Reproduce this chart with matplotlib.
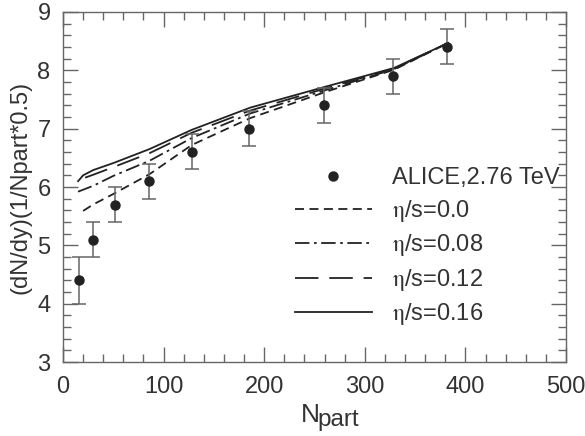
import numpy as np
import matplotlib
matplotlib.use('Agg')
import matplotlib.pyplot as plt
from matplotlib.ticker import MultipleLocator
from matplotlib.lines import Line2D

plt.rcParams['font.family'] = ['Liberation Sans', 'DejaVu Sans']
plt.rcParams['mathtext.fontset'] = 'stix'

# ALICE data
npart_data = [16, 30, 52, 85, 128, 185, 259, 328, 382]
dndy_data = [4.4, 5.1, 5.7, 6.1, 6.6, 7.0, 7.4, 7.9, 8.4]
dndy_err = [0.4, 0.3, 0.3, 0.3, 0.3, 0.3, 0.3, 0.3, 0.3]

# hydro curves
npart_00 = [20, 30, 50, 86, 128, 186, 261, 329, 383]
y_00 = [5.59, 5.70, 5.88, 6.22, 6.72, 7.18, 7.63, 8.01, 8.47]
npart_08 = [15, 30, 50, 86, 128, 186, 261, 329, 383]
y_08 = [5.92, 6.02, 6.19, 6.45, 6.84, 7.26, 7.66, 8.02, 8.47]
npart_12 = [22, 30, 50, 86, 128, 186, 261, 329, 383]
y_12 = [6.16, 6.21, 6.34, 6.58, 6.93, 7.31, 7.69, 8.03, 8.47]
npart_16 = [15, 20, 30, 50, 86, 128, 186, 261, 329, 383]
y_16 = [6.10, 6.20, 6.29, 6.41, 6.65, 6.98, 7.36, 7.72, 8.04, 8.47]

labels = ['ALICE,2.76 TeV', r'$\mathrm{\eta}$/s=0.0', r'$\mathrm{\eta}$/s=0.08',
          r'$\mathrm{\eta}$/s=0.12', r'$\mathrm{\eta}$/s=0.16']

txt = '#333333'
ax_col = '#666666'
fs = 17

fig = plt.figure(figsize=(5.85, 4.36), dpi=100)
ax = fig.add_axes([0.1077, 0.1697, 0.8598, 0.8028])

ax.errorbar(npart_data, dndy_data, yerr=dndy_err, fmt='o', color='#222222',
            ecolor='#666666', elinewidth=1.1, capsize=5, capthick=1.1,
            markersize=6.5, zorder=3)
lw = 1.3
c = '#222222'
l0, = ax.plot(npart_00, y_00, color=c, lw=lw, dashes=(5, 3))
l1, = ax.plot(npart_08, y_08, color=c, lw=lw, dashes=(8, 2.5, 1.5, 2.5))
l2, = ax.plot(npart_12, y_12, color=c, lw=lw, dashes=(13, 6))
l3, = ax.plot(npart_16, y_16, color=c, lw=lw)
dot = Line2D([], [], ls='none', marker='o', color='#222222', markersize=6.5)

ax.set_xlim(0, 500)
ax.set_ylim(3, 9)
ax.xaxis.set_major_locator(MultipleLocator(100))
ax.xaxis.set_minor_locator(MultipleLocator(20))
ax.yaxis.set_major_locator(MultipleLocator(1))
ax.yaxis.set_minor_locator(MultipleLocator(0.2))
ax.tick_params(which='both', direction='in', top=True, right=True,
               color=ax_col, width=1, labelsize=fs, labelcolor=txt)
ax.tick_params(axis='x', pad=10)
ax.tick_params(axis='y', pad=9)
ax.tick_params(which='major', length=11)
ax.tick_params(which='minor', length=5.5)
for s in ax.spines.values():
    s.set_color(ax_col)
    s.set_linewidth(1)

# x label: N with large "part" subscript
fig.text(0.514, 0.0321, 'N', fontsize=19, color=txt, va='baseline', ha='left')
fig.text(0.5425, 0.0229, 'part', fontsize=17.5, color=txt, va='baseline', ha='left')
ax.set_ylabel('(dN/dy)(1/Npart*0.5)', fontsize=fs, color=txt, labelpad=4)

leg = ax.legend([dot, l0, l1, l2, l3], labels, loc='upper left',
                bbox_to_anchor=(0.4612, 0.556), frameon=False,
                fontsize=fs, handlelength=3.26, handletextpad=0.85,
                labelspacing=0.36, borderaxespad=0, borderpad=0)
for t in leg.get_texts():
    t.set_color(txt)

fig.savefig('out.png', dpi=100)
